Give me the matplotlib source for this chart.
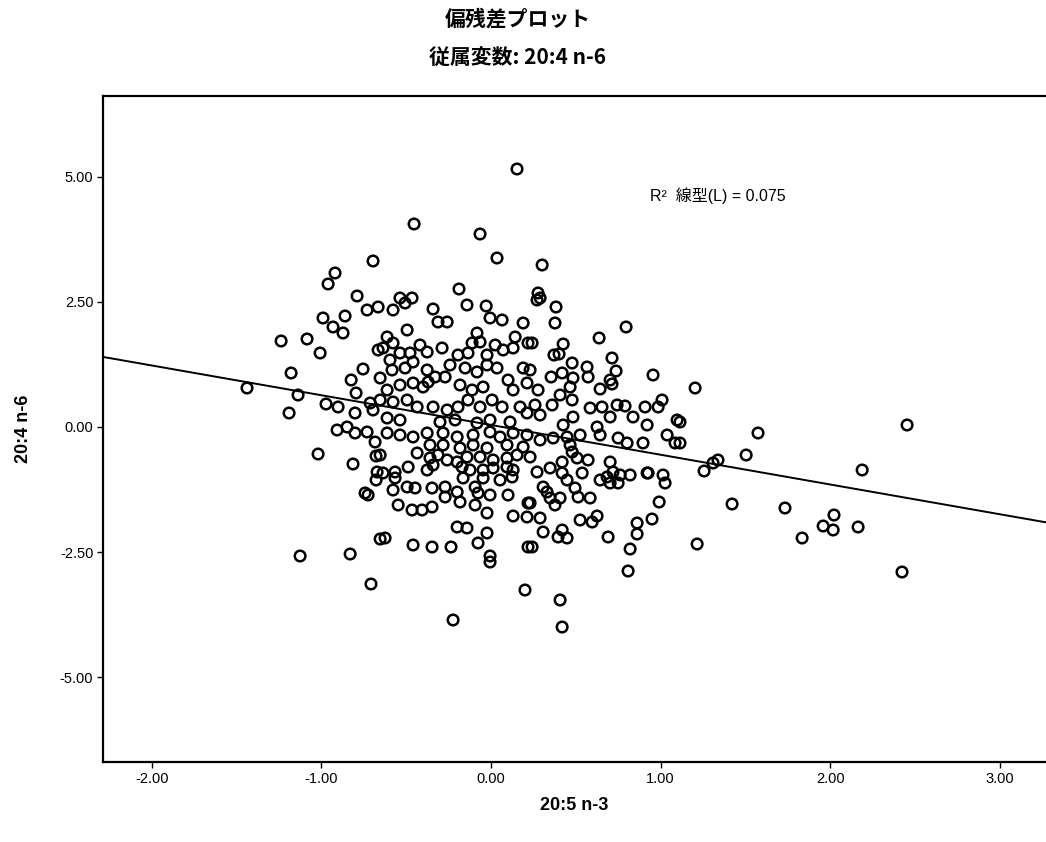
#!/usr/bin/env python3
# Partial residual plot (SPSS style): 20:4 n-6 vs 20:5 n-3

import matplotlib
matplotlib.use("Agg")
import matplotlib.pyplot as plt
from matplotlib.ticker import FormatStrFormatter

# partial residuals
resid_x = [
    0.153, -0.454, -0.065, -0.696, 0.035, 0.301, -0.920, -0.961, -0.790, -0.537,
    -0.466, -0.189, 0.277, 0.289, -1.238, -1.085, -1.179, -1.439, -1.138, -1.191,
    -1.020, -1.126, -0.831, -0.708, -0.224, 0.200, 0.407, 0.419, 0.808, -0.006,
    0.796, 0.955,
    1.203, 1.114, 1.114, 1.574, 1.504, 1.338, 1.309, 1.256, 2.188, 2.453,
    2.423, 1.421, 1.733, 2.022, 1.958, 2.017, 2.164, 1.834, 1.215, 0.991,
    0.949, 0.861, 0.861, 0.820, 0.920, 1.014, 1.026,
    -0.814, -0.743, -0.725, -0.684, -0.678, -0.672, -0.678, -0.654, -0.908, -0.802,
    -0.731,
    -0.991, -0.861, -0.932, -0.873, -0.731, -0.666, -1.008, -0.666, -0.755, -0.825,
    -0.796, -0.973, -0.902, -0.802, -0.713, -0.696, -0.849,
    -0.342, -0.142, -0.029, -0.006, 0.065, 0.189, -0.578, -0.507, -0.313, -0.259,
    -0.495, -0.613, -0.578, -0.637, -0.419, -0.377, -0.289, -0.083, -0.065, -0.112,
    0.024, 0.071, 0.130, 0.142, 0.218, -0.195, -0.136, -0.537, -0.478, -0.596,
    -0.460, -0.242, -0.024, -0.024, 0.035, 0.189, -0.584, -0.507, -0.377, -0.330,
    -0.271, -0.153, -0.083, 0.100, 0.212, -0.654, -0.613, -0.537, -0.460, -0.401,
    -0.371, -0.183, -0.112, -0.047, 0.130, -0.654, -0.578, -0.495, -0.436, -0.342,
    -0.259, -0.195, -0.136, -0.065, 0.006, 0.065, 0.171, 0.212, -0.613, -0.537,
    -0.301, -0.212, -0.083, -0.006, 0.112,
    0.271, 0.383, 0.377, 0.637, 0.242, 0.425, 0.371, 0.401, 0.478, 0.713,
    0.230, 0.354, 0.419, 0.566, 0.572, 0.483, 0.737, 0.702, 0.713, 0.277,
    0.466, 0.407, 0.643, 0.478, 0.259, 0.360, 0.584, 0.654, 0.743, 0.790,
    0.908, 1.008, 0.985, 1.097, 0.289, 0.483, 0.702, 0.837, 0.425, 0.625,
    0.920,
    -0.613, -0.537, -0.460, -0.377, -0.283, -0.200, -0.106, -0.006, 0.053, 0.130,
    0.212, -0.654, -0.436, -0.360, -0.313, -0.259, -0.200, -0.142, -0.065, 0.012,
    0.094, 0.153, 0.189, -0.360, -0.283, -0.183, -0.106, -0.024, 0.094, -0.489,
    -0.566, -0.566, -0.637, -0.377, -0.342, -0.171, -0.124, -0.047, 0.012, 0.094,
    0.130, -0.165, -0.047, 0.053, 0.124, -0.578, -0.495, -0.448, -0.348, -0.271,
    -0.271, -0.200, -0.094, -0.077, -0.006, 0.100, -0.548, -0.466, -0.407, -0.348,
    -0.183, -0.094, -0.024, 0.130, 0.218, -0.200, -0.142, -0.024, -0.077, -0.625,
    -0.460, -0.348, -0.236, -0.006, 0.218, 0.212,
    0.289, 0.366, 0.448, 0.525, 0.643, 0.749, 0.802, 0.896, 1.038, 1.085,
    0.466, 0.478, 0.230, 0.419, 0.507, 0.572, 0.702, 0.271, 0.348, 0.419,
    0.537, 0.643, 0.684, 0.719, 0.761, 0.820, 0.702, 0.749, 0.926, 0.307,
    0.330, 0.448, 0.495, 0.348, 0.407, 0.377, 0.513, 0.584, 0.230, 0.289,
    0.525, 0.596, 0.625, 0.307, 0.419, 0.448, 0.395, 0.690, 0.242,
]
resid_y = [
    5.16, 4.06, 3.86, 3.32, 3.38, 3.24, 3.08, 2.86, 2.62, 2.58,
    2.58, 2.76, 2.68, 2.58, 1.72, 1.76, 1.08, 0.78, 0.64, 0.28,
    -0.54, -2.58, -2.54, -3.14, -3.86, -3.26, -3.46, -4.00, -2.88, -2.70,
    2.00, 1.04,
    0.78, 0.10, -0.32, -0.12, -0.56, -0.66, -0.72, -0.88, -0.86, 0.04,
    -2.90, -1.54, -1.62, -1.76, -1.98, -2.06, -2.00, -2.22, -2.34, -1.50,
    -1.84, -1.92, -2.14, -2.44, -0.92, -0.96, -1.12,
    -0.74, -1.32, -1.36, -0.30, -0.58, -0.90, -1.06, -2.24, -0.06, -0.12,
    -0.10,
    2.18, 2.22, 2.00, 1.88, 2.34, 2.40, 1.48, 1.54, 1.16, 0.94,
    0.68, 0.46, 0.40, 0.28, 0.48, 0.34, 0.00,
    2.36, 2.44, 2.42, 2.18, 2.14, 2.08, 2.34, 2.48, 2.10, 2.10,
    1.94, 1.80, 1.68, 1.58, 1.64, 1.50, 1.58, 1.88, 1.70, 1.68,
    1.64, 1.54, 1.58, 1.80, 1.68, 1.44, 1.48, 1.48, 1.48, 1.34,
    1.30, 1.24, 1.44, 1.24, 1.18, 1.18, 1.14, 1.18, 1.14, 1.00,
    1.00, 1.18, 1.10, 0.94, 0.88, 0.98, 0.74, 0.84, 0.88, 0.80,
    0.90, 0.84, 0.74, 0.80, 0.74, 0.54, 0.50, 0.54, 0.40, 0.40,
    0.34, 0.40, 0.54, 0.40, 0.54, 0.40, 0.40, 0.28, 0.18, 0.14,
    0.10, 0.14, 0.08, 0.14, 0.10,
    2.54, 2.40, 2.08, 1.78, 1.68, 1.66, 1.44, 1.46, 1.28, 1.38,
    1.14, 1.00, 1.08, 1.20, 1.00, 0.98, 1.12, 0.94, 0.86, 0.74,
    0.80, 0.64, 0.76, 0.54, 0.44, 0.44, 0.38, 0.40, 0.44, 0.42,
    0.40, 0.54, 0.40, 0.14, 0.24, 0.20, 0.20, 0.20, 0.04, 0.00,
    0.04,
    -0.12, -0.16, -0.20, -0.12, -0.12, -0.20, -0.16, -0.10, -0.20, -0.12,
    -0.16, -0.56, -0.52, -0.62, -0.56, -0.66, -0.70, -0.60, -0.60, -0.66,
    -0.62, -0.56, -0.40, -0.36, -0.36, -0.42, -0.36, -0.42, -0.36, -0.80,
    -0.90, -1.02, -0.92, -0.86, -0.76, -0.80, -0.86, -0.86, -0.82, -0.80,
    -0.86, -1.02, -1.02, -1.06, -1.00, -1.26, -1.20, -1.22, -1.22, -1.20,
    -1.40, -1.30, -1.20, -1.32, -1.36, -1.36, -1.56, -1.66, -1.66, -1.60,
    -1.50, -1.56, -1.72, -1.78, -1.52, -2.00, -2.02, -2.12, -2.32, -2.22,
    -2.36, -2.40, -2.40, -2.58, -2.40, -1.80,
    -0.26, -0.22, -0.20, -0.16, -0.16, -0.22, -0.32, -0.32, -0.16, -0.32,
    -0.36, -0.50, -0.60, -0.70, -0.62, -0.66, -0.70, -0.90, -0.82, -0.92,
    -0.92, -1.06, -1.00, -0.90, -0.96, -0.96, -1.12, -1.12, -0.92, -1.20,
    -1.30, -1.06, -1.22, -1.42, -1.42, -1.56, -1.40, -1.42, -1.52, -1.82,
    -1.86, -1.90, -1.78, -2.10, -2.06, -2.22, -2.20, -2.20, -2.40,
]

# linear fit shown on the chart
fit_intercept = 0.04
fit_slope = -0.595
r2_label = "R²  線型(L) = 0.075"

x_ticks = [-2.0, -1.0, 0.0, 1.0, 2.0, 3.0]
y_ticks = [-5.0, -2.5, 0.0, 2.5, 5.0]

jp_font = ["Noto Sans CJK JP", "DejaVu Sans"]
plt.rcParams["font.family"] = ["Liberation Sans", "Noto Sans CJK JP", "DejaVu Sans"]

fig = plt.figure(figsize=(10.46, 8.42), dpi=100)
ax = fig.add_axes([0.0985, 0.095, 0.9015, 0.791])

ax.scatter(resid_x, resid_y, s=58, facecolors="none", edgecolors="black",
           linewidths=1.8, zorder=3)

ax.set_xlim(-2.288, 3.272)
ax.set_ylim(-6.7, 6.62)
ax.axline((0, fit_intercept), slope=fit_slope, color="black", lw=1.4, zorder=2)

ax.set_xticks(x_ticks)
ax.set_yticks(y_ticks)
ax.xaxis.set_major_formatter(FormatStrFormatter("%.2f"))
ax.yaxis.set_major_formatter(FormatStrFormatter("%.2f"))
ax.tick_params(direction="out", length=4, width=1, labelsize=10.5, pad=3)

for side in ("left", "top", "bottom"):
    ax.spines[side].set_linewidth(1.6)
ax.spines["right"].set_visible(False)

ax.text(0.94, 4.62, r2_label, fontsize=11.5, va="center", ha="left",
        family=["Liberation Sans", "Noto Sans CJK JP"])

ax.set_xlabel("20:5 n-3", fontsize=13, fontweight="bold", labelpad=8)
ax.set_ylabel("20:4 n-6", fontsize=13, fontweight="bold", labelpad=20)

fig.text(0.495, 0.977, "偏残差プロット", ha="center", va="center",
         fontsize=15, fontweight="bold", family=jp_font)
fig.text(0.495, 0.932, "従属変数: 20:4 n-6", ha="center", va="center",
         fontsize=15, fontweight="bold", family=jp_font)

fig.savefig("out.png", dpi=100)
